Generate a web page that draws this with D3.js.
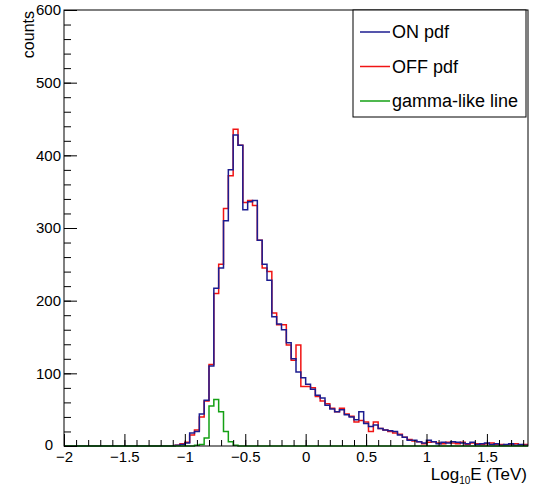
<!DOCTYPE html>
<meta charset="utf-8">
<body>
  <svg></svg>
</body>

<style>
body { margin: 0; background: #fff; }
text { font-family: "Liberation Sans", Arial, sans-serif; fill: #000; }
.tick line { stroke: #000; }
</style>

<script src="https://d3js.org/d3.v7.min.js"></script>
<script>

// histogram binning (log10 E)
var binLow = -2, binWidth = 0.04;

var onCounts = [
  0, 0, 0, 0, 0, 0, 0, 0, 0, 0,
  0, 0, 0, 0, 0, 0, 0, 0, 0, 0,
  0, 0, 0, 1, 2, 4, 18, 20, 44, 63,
  110, 217, 245, 310, 380, 428, 414, 325, 336, 338,
  283, 250, 228, 178, 168, 160, 142, 120, 102, 94,
  85, 78, 70, 66, 56, 51, 47, 50, 43, 40,
  36, 47, 31, 27, 29, 24, 22, 21, 20, 15,
  12, 8, 8, 6, 4, 8, 6, 3, 5, 4,
  6, 5, 4, 3, 5, 2, 3, 4, 2, 3,
  1, 2, 3, 1, 2, 1
];

var offCounts = [
  0, 0, 0, 0, 0, 0, 0, 0, 0, 0,
  0, 0, 0, 0, 0, 0, 0, 0, 0, 0,
  0, 0, 0, 1, 3, 5, 15, 22, 40, 62,
  112, 210, 250, 327, 372, 436, 414, 335, 338, 331,
  283, 245, 240, 183, 167, 167, 139, 118, 139, 82,
  82, 80, 68, 62, 58, 52, 47, 52, 44, 41,
  33, 35, 33, 20, 33, 24, 22, 20, 18, 16,
  12, 9, 7, 6, 3, 5, 6, 4, 3, 5,
  4, 3, 5, 2, 4, 3, 2, 3, 4, 2,
  2, 1, 2, 3, 1, 2
];

var gammaCounts = [
  0, 0, 0, 0, 0, 0, 0, 0, 0, 0,
  0, 0, 0, 0, 0, 0, 0, 0, 0, 0,
  0, 0, 0, 0, 0, 0, 0, 1, 2, 11,
  55, 64, 47, 20, 6, 1, 0, 0, 0, 0,
  0, 0, 0, 0, 0, 0, 0, 0, 0, 0,
  0, 0, 0, 0, 0, 0, 0, 0, 0, 0,
  0, 0, 0, 0, 0, 0, 0, 0, 0, 0,
  0, 0, 0, 0, 0, 0, 0, 0, 0, 0,
  0, 0, 0, 0, 0, 0, 0, 0, 0, 0,
  0, 0, 0, 0, 0, 0
];

var xTickLabels = [-2, -1.5, -1, -0.5, 0, 0.5, 1, 1.5];
var yTickLabels = [0, 100, 200, 300, 400, 500, 600];
var legendNames = ["ON pdf", "OFF pdf", "gamma-like line"];
var colors = ["#1c1c90", "#f01414", "#14a014"];

var svg = d3.select("svg").attr("width", 536).attr("height", 487);

var x = d3.scaleLinear().domain([-2, 1.84]).range([64, 528]);
var y = d3.scaleLinear().domain([0, 600]).range([446, 10]);

// histograms drawn as steps
var edges = d3.range(onCounts.length + 1).map(i => binLow + i * binWidth);

function histPoints(counts) {
  var pts = counts.map((c, i) => [edges[i], c]);
  pts.push([edges[counts.length], counts[counts.length - 1]]);
  return pts;
}

var line = d3.line()
    .x(d => x(d[0]))
    .y(d => y(d[1]))
    .curve(d3.curveStepAfter);

// OFF under ON, gamma on top
[[offCounts, colors[1]], [onCounts, colors[0]], [gammaCounts, colors[2]]].forEach(h => {
  svg.append("path")
      .attr("d", line(histPoints(h[0])))
      .attr("fill", "none")
      .attr("stroke", h[1])
      .attr("stroke-width", 1.5);
});

// AXES (ticks pointing inwards, ROOT style)
var fmt = d => String(d).replace("-", "\u2212");

svg.append("g")
    .attr("transform", "translate(0,446)")
    .call(d3.axisBottom(x).tickValues(d3.range(-2, 1.84, 0.1)).tickSize(-6).tickFormat(""))
    .call(g => g.select(".domain").remove());

svg.append("g")
    .attr("transform", "translate(0,446)")
    .call(d3.axisBottom(x).tickValues(xTickLabels).tickSize(-12).tickPadding(5).tickFormat(fmt))
    .call(g => g.select(".domain").remove())
    .call(g => g.selectAll("text").style("font-size", "15px").style("font-family", "Liberation Sans, Arial, sans-serif"));

svg.append("g")
    .attr("transform", "translate(64,0)")
    .call(d3.axisLeft(y).tickValues(d3.range(0, 601, 20)).tickSize(-7).tickFormat(""))
    .call(g => g.select(".domain").remove());

svg.append("g")
    .attr("transform", "translate(64,0)")
    .call(d3.axisLeft(y).tickValues(yTickLabels).tickSize(-13).tickPadding(3).tickFormat(fmt))
    .call(g => g.select(".domain").remove())
    .call(g => g.selectAll("text").style("font-size", "15px").style("font-family", "Liberation Sans, Arial, sans-serif"))
    // ROOT pushes the "0" label left so it clears the x labels
    .call(g => g.selectAll(".tick").filter(d => d === 0).select("text").attr("x", -11).attr("dy", "0.2em"));

// frame
svg.append("rect")
    .attr("x", 64).attr("y", 10)
    .attr("width", 464).attr("height", 436)
    .attr("fill", "none")
    .attr("stroke", "#000");

// axis titles
var xt = svg.append("text")
    .attr("x", 527).attr("y", 480)
    .attr("text-anchor", "end")
    .style("font-size", "17px");
xt.append("tspan").text("Log");
xt.append("tspan").attr("dy", 4).style("font-size", "10px").text("10");
xt.append("tspan").attr("dy", -4).text("E (TeV)");

svg.append("text")
    .attr("transform", "translate(34,11) rotate(-90)")
    .attr("text-anchor", "end")
    .style("font-size", "16px")
    .text("counts");

// LEGEND
var legend = svg.append("g");
legend.append("rect")
    .attr("x", 353).attr("y", 10)
    .attr("width", 173).attr("height", 107)
    .attr("fill", "#fff")
    .attr("stroke", "#000");

legendNames.forEach((name, i) => {
  var ly = 32 + i * 34.5;
  legend.append("line")
      .attr("x1", 360).attr("x2", 390)
      .attr("y1", ly).attr("y2", ly)
      .attr("stroke", colors[i])
      .attr("stroke-width", 1.5);
  legend.append("text")
      .attr("x", 392).attr("y", ly)
      .attr("dy", "0.35em")
      .style("font-size", "18px")
      .text(name);
});

</script>
